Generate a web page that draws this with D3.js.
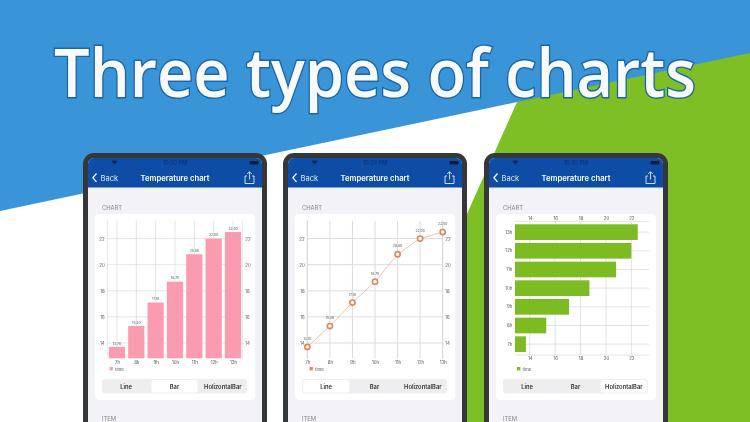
<!DOCTYPE html>
<html>
<head>
<meta charset="utf-8">
<script src="https://cdn.jsdelivr.net/npm/d3@7"></script>
<style>
html, body { margin: 0; padding: 0; background: #fff; overflow: hidden; }
svg { display: block; }
text { font-family: "Inter", "Open Sans", sans-serif; }
.axis path { display: none; }
.axis text { fill: #555; font-size: 4.4px; }
</style>
</head>
<body>
<div id="chart"></div>
<script>
// Chart values, same for all three phones
const hours = ['7h', '8h', '9h', '10h', '11h', '12h', '13h'];
const temperatures = [13.7, 15.3, 17.1, 18.7, 20.8, 22.0, 22.5];
const valueLabels = ['13.70', '15.30', '17.10', '18.70', '20.80', '22.00', '22.50'];
const valueTicks = [14, 16, 18, 20, 22];
const segments = ['Line', 'Bar', 'HolizontalBar'];

const rows = hours.map((h, i) => ({ hour: h, value: temperatures[i], label: valueLabels[i] }));

const svg = d3.select('#chart').append('svg').attr('width', 750).attr('height', 422);

// The reference is a slightly soft screenshot
svg.append('defs').append('filter').attr('id', 'soft')
    .append('feGaussianBlur').attr('stdDeviation', 0.25);

// Background shapes
const blue = '#3a94d8', green = '#7dbf24';
svg.append('rect').attr('width', 750).attr('height', 422).attr('fill', blue);
svg.append('polygon').attr('points', '0,211 517,102 517,422 0,422').attr('fill', '#fff');
svg.append('polygon').attr('points', '517,102 750,53 750,422 374,422').attr('fill', green);

// Title
svg.append('text').attr('x', 54).attr('y', 96.5)
    .attr('textLength', 642).attr('lengthAdjust', 'spacingAndGlyphs')
    .style('font-family', '"Open Sans"').style('font-size', '67px').style('font-weight', 600)
    .attr('fill', '#f8f9fb').attr('stroke', '#1a66a6').attr('stroke-width', 2.8)
    .attr('paint-order', 'stroke').text('Three types of charts');

// Phone frame, header, card and segmented control. Returns the group for the chart.
function drawPhone(dx, time, selected) {
    const g = svg.append('g').attr('transform', `translate(${dx}, 0)`).attr('filter', 'url(#soft)');
    g.append('rect').attr('x', 83).attr('y', 153).attr('width', 184).attr('height', 300).attr('rx', 11).attr('fill', '#34373b');
    g.append('rect').attr('x', 88).attr('y', 158).attr('width', 174).attr('height', 290).attr('rx', 6).attr('fill', '#f2f2f7');
    g.append('path').attr('d', 'M88,187.5V164a6,6 0 0 1 6,-6H256a6,6 0 0 1 6,6V187.5Z').attr('fill', '#0a4da6');

    // status bar
    g.append('path').attr('d', 'M111.5,161.3q3,-2.2 6,0l-3,3.4Z').attr('fill', '#0b2a5c');
    g.append('text').attr('x', 175).attr('y', 164.5).attr('text-anchor', 'middle')
        .style('font-size', '5.5px').attr('fill', '#0b2f6b').text(time);
    g.append('rect').attr('x', 249.5).attr('y', 161).attr('width', 9).attr('height', 3.6).attr('rx', 1).attr('fill', '#0a1c38');

    // nav bar
    g.append('path').attr('d', 'M96.5,173.5l-3.6,4.2l3.6,4.2').attr('fill', 'none').attr('stroke', '#fff').attr('stroke-width', 1.3);
    g.append('text').attr('x', 100.5).attr('y', 180.6).style('font-size', '7.6px').attr('fill', '#dfe9f6').text('Back');
    g.append('text').attr('x', 175).attr('y', 180.6).attr('text-anchor', 'middle')
        .style('font-size', '7.7px').style('font-weight', 600).attr('fill', '#fff').text('Temperature chart');
    g.append('path').attr('d', 'M247,176h-2v7.5h9v-7.5h-2M249.5,179.5v-7.5M247.2,174l2.3,-2.3l2.3,2.3')
        .attr('fill', 'none').attr('stroke', '#fff').attr('stroke-width', 0.8);

    g.append('text').attr('x', 102).attr('y', 209.5).style('font-size', '5.8px').attr('fill', '#85858b').text('CHART');
    g.append('text').attr('x', 102).attr('y', 421).style('font-size', '5.8px').attr('fill', '#85858b').text('ITEM');
    g.append('rect').attr('x', 95).attr('y', 214).attr('width', 160).attr('height', 186).attr('rx', 4).attr('fill', '#fff');

    // segmented control
    const segX = d3.scaleBand().domain(segments).range([102, 247]);
    g.append('rect').attr('x', 102).attr('y', 379).attr('width', 145).attr('height', 14.5).attr('rx', 3).attr('fill', '#eeeef0');
    g.append('rect').attr('x', segX(selected) + 1).attr('y', 380).attr('width', segX.bandwidth() - 2).attr('height', 12.5)
        .attr('rx', 3).attr('fill', '#fff');
    g.selectAll('.seg').data(segments).enter().append('text').attr('class', 'seg')
        .attr('x', d => segX(d) + segX.bandwidth() / 2).attr('y', 388.5).attr('text-anchor', 'middle')
        .style('font-size', '5.8px').style('font-weight', 600).attr('fill', '#333').text(d => d);
    return g;
}

function drawLegend(g, x, color) {
    g.append('rect').attr('x', x).attr('y', 367).attr('width', 3.4).attr('height', 3.4).attr('fill', color);
    g.append('text').attr('x', x + 5.5).attr('y', 370.6).style('font-size', '4.4px').attr('fill', '#555').text('time');
}

// Shared vertical grid + left, right and bottom axes for the bar and line phones
function drawVerticalGrid(g, x, y, left, right, top, bottom, gridColor, gridWidth) {
    g.append('g').selectAll('line').data(valueTicks).enter().append('line')
        .attr('x1', left).attr('x2', right).attr('y1', d => y(d)).attr('y2', d => y(d))
        .attr('stroke', gridColor).attr('stroke-width', gridWidth);
    g.append('g').selectAll('line').data(hours).enter().append('line')
        .attr('x1', d => x(d)).attr('x2', d => x(d)).attr('y1', top).attr('y2', bottom)
        .attr('stroke', gridColor).attr('stroke-width', gridWidth);
    [left, right].forEach(px => {
        g.append('line').attr('x1', px).attr('x2', px).attr('y1', top).attr('y2', bottom)
            .attr('stroke', gridColor).attr('stroke-width', gridWidth);
    });
    g.append('g').attr('class', 'axis').attr('transform', `translate(${left}, 0)`)
        .call(d3.axisLeft(y).tickValues(valueTicks).tickSize(0).tickPadding(2.6));
    g.append('g').attr('class', 'axis').attr('transform', `translate(${right}, 0)`)
        .call(d3.axisRight(y).tickValues(valueTicks).tickSize(0).tickPadding(2.6));
    g.append('g').attr('class', 'axis').attr('transform', `translate(0, ${bottom})`)
        .call(d3.axisBottom(x).tickSize(0).tickPadding(2.5));
}

// Bar phone
function drawBarPhone() {
    const g = drawPhone(0, '10:30 PM', 'Bar');
    const top = 220.7, bottom = 358.3, left = 107.3, right = 242.7;
    const y = d3.scaleLinear().domain([12.83, 23.37]).range([bottom, top]);
    const band = d3.scaleBand().domain(hours).range([left, right]).paddingInner(0.16).paddingOuter(0.08);
    const x = d => band(d) + band.bandwidth() / 2;
    const xAxisScale = d3.scalePoint().domain(hours).range([x('7h'), x('13h')]);
    drawVerticalGrid(g, xAxisScale, y, left, right, top, bottom, '#d4d4d4', 0.6);
    g.selectAll('.bar').data(rows).enter().append('rect').attr('class', 'bar')
        .attr('x', d => band(d.hour)).attr('y', d => y(d.value))
        .attr('width', band.bandwidth()).attr('height', d => bottom - y(d.value))
        .attr('fill', '#fb9bb0');
    g.selectAll('.val').data(rows).enter().append('text').attr('class', 'val')
        .attr('x', d => x(d.hour)).attr('y', d => y(d.value) - 2.2).attr('text-anchor', 'middle')
        .style('font-size', '3.4px').attr('fill', '#555').text(d => d.label);
    drawLegend(g, 109.5, '#fb9bb0');
}

// Line phone
function drawLinePhone() {
    const g = drawPhone(200, '10:29 PM', 'Line');
    const top = 220.7, bottom = 358.3, left = 107.3, right = 242.7;
    const y = d3.scaleLinear().domain([12.83, 23.37]).range([bottom, top]);
    const x = d3.scalePoint().domain(hours).range([left, right]);
    drawVerticalGrid(g, x, y, left, right, top, bottom, '#d8d8d8', 0.9);
    const line = d3.line().x(d => x(d.hour)).y(d => y(d.value));
    g.append('path').datum(rows).attr('d', line).attr('fill', 'none').attr('stroke', '#f2b08f').attr('stroke-width', 0.8);
    g.selectAll('.dot').data(rows).enter().append('circle').attr('class', 'dot')
        .attr('cx', d => x(d.hour)).attr('cy', d => y(d.value)).attr('r', 2.6)
        .attr('fill', '#fff').attr('stroke', '#e2855a').attr('stroke-width', 1.6);
    g.selectAll('.val').data(rows).enter().append('text').attr('class', 'val')
        .attr('x', d => x(d.hour)).attr('y', d => y(d.value) - 7).attr('text-anchor', 'middle')
        .style('font-size', '3.4px').attr('fill', '#555').text(d => d.label);
    drawLegend(g, 109.5, '#e8845a');
}

// Horizontal bar phone
function drawHorizontalPhone() {
    const g = drawPhone(401, '10:30 PM', 'HolizontalBar');
    const top = 221.3, bottom = 355, left = 114, right = 248;
    const x = d3.scaleLinear().domain([12.84, 23.39]).range([left, right]);
    const y = d3.scaleBand().domain(hours.slice().reverse()).range([top, bottom]).padding(0.16);
    const gridColor = '#d0d0d0';
    g.append('g').selectAll('line').data(valueTicks).enter().append('line')
        .attr('x1', d => x(d)).attr('x2', d => x(d)).attr('y1', top).attr('y2', bottom)
        .attr('stroke', gridColor).attr('stroke-width', 0.6);
    g.append('g').selectAll('line').data(hours).enter().append('line')
        .attr('x1', left).attr('x2', right).attr('y1', d => y(d) + y.bandwidth() / 2).attr('y2', d => y(d) + y.bandwidth() / 2)
        .attr('stroke', gridColor).attr('stroke-width', 0.6);
    [top, bottom].forEach(py => {
        g.append('line').attr('x1', left).attr('x2', right).attr('y1', py).attr('y2', py)
            .attr('stroke', gridColor).attr('stroke-width', 0.6);
    });
    g.selectAll('.bar').data(rows).enter().append('rect').attr('class', 'bar')
        .attr('x', left).attr('y', d => y(d.hour))
        .attr('width', d => x(d.value) - left).attr('height', y.bandwidth())
        .attr('fill', '#7dbb24');
    g.append('g').attr('class', 'axis').attr('transform', `translate(${left}, 0)`)
        .call(d3.axisLeft(y).tickSize(0).tickPadding(2.6));
    g.append('g').attr('class', 'axis').attr('transform', `translate(0, ${top})`)
        .call(d3.axisTop(x).tickValues(valueTicks).tickSize(0).tickPadding(1.4));
    g.append('g').attr('class', 'axis').attr('transform', `translate(0, ${bottom})`)
        .call(d3.axisBottom(x).tickValues(valueTicks).tickSize(0).tickPadding(2));
    drawLegend(g, 116, '#7dbb24');
}

drawBarPhone();
drawLinePhone();
drawHorizontalPhone();
</script>
</body>
</html>
